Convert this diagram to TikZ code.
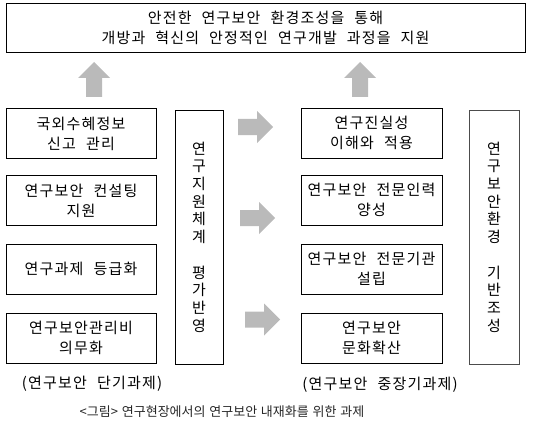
\documentclass[tikz,border=0pt]{standalone}
\usepackage{fontspec}
\setmainfont{Noto Sans CJK KR}[LetterSpace=8,WordSpace=2.2]
\newfontfamily\captionfont{Noto Sans CJK KR}[WordSpace=1.3]
\tikzset{
  taskbox/.style={draw,line width=0.9pt,align=center,inner sep=0pt,
    minimum height=50pt,font=\fontsize{15}{20}\selectfont},
  colbox/.style={draw,line width=0.9pt,align=center,inner sep=0pt,
    minimum height=254pt,font=\fontsize{15}{17.7}\selectfont},
  pics/blockarrow/.style={code={
    \fill[black!27] (0,-8) -- (19,-8) -- (19,-16) -- (35,0) -- (19,16)
      -- (19,8) -- (0,8) -- cycle;}},
}
\begin{document}
\begin{tikzpicture}[x=1pt,y=-1pt]
  \useasboundingbox (0,0) rectangle (536,436);
  % goal
  \node[taskbox,minimum width=519pt,minimum height=49pt] (goal) at (265.5,27.5)
    {안전한 연구보안 환경조성을 통해\\개방과 혁신의 안정적인 연구개발 과정을 지원};
  % short-term tasks
  \node[taskbox,minimum width=150pt] (s1) at (81,133.5) {국외수혜정보\\신고 관리};
  \node[taskbox,minimum width=150pt] (s2) at (81,200.5) {연구보안 컨설팅\\지원};
  \node[taskbox,minimum width=150pt] (s3) at (81,269) {연구과제 등급화};
  \node[taskbox,minimum width=150pt] (s4) at (81,338) {연구보안관리비\\의무화};
  \node[colbox,minimum width=48pt] (sside) at (199,237)
    {연\\구\\지\\원\\체\\계\\[17.7pt]평\\가\\반\\영};
  % mid/long-term tasks
  \node[taskbox,minimum width=141pt] (m1) at (371.5,133) {연구진실성\\이해와 적용};
  \node[taskbox,minimum width=141pt] (m2) at (371.5,200) {연구보안 전문인력\\양성};
  \node[taskbox,minimum width=141pt] (m3) at (371.5,269) {연구보안 전문기관\\설립};
  \node[taskbox,minimum width=141pt] (m4) at (371.5,338) {연구보안\\문화확산};
  \node[colbox,draw=black!70,minimum width=50pt] (mside) at (494,237)
    {연\\구\\보\\안\\환\\경\\[17.7pt]기\\반\\조\\성};
  % arrows
  \pic[rotate=90] at (94,97) {blockarrow};
  \pic[rotate=90] at (360,97) {blockarrow};
  \foreach \x/\y in {238/127, 240/218, 245/319.5}
    \pic at (\x,\y) {blockarrow};
  % labels
  \node[font=\fontsize{15}{16}\selectfont] (slabel) at (92,384) {(연구보안 단기과제)};
  \node[font=\fontsize{15}{16}\selectfont] (mlabel) at (380,385) {(연구보안 중장기과제)};
  \node[font=\captionfont\fontsize{13}{14}\selectfont,text=black!85] (caption) at (222,412)
    {<그림> 연구현장에서의 연구보안 내재화를 위한 과제};
\end{tikzpicture}
\end{document}
